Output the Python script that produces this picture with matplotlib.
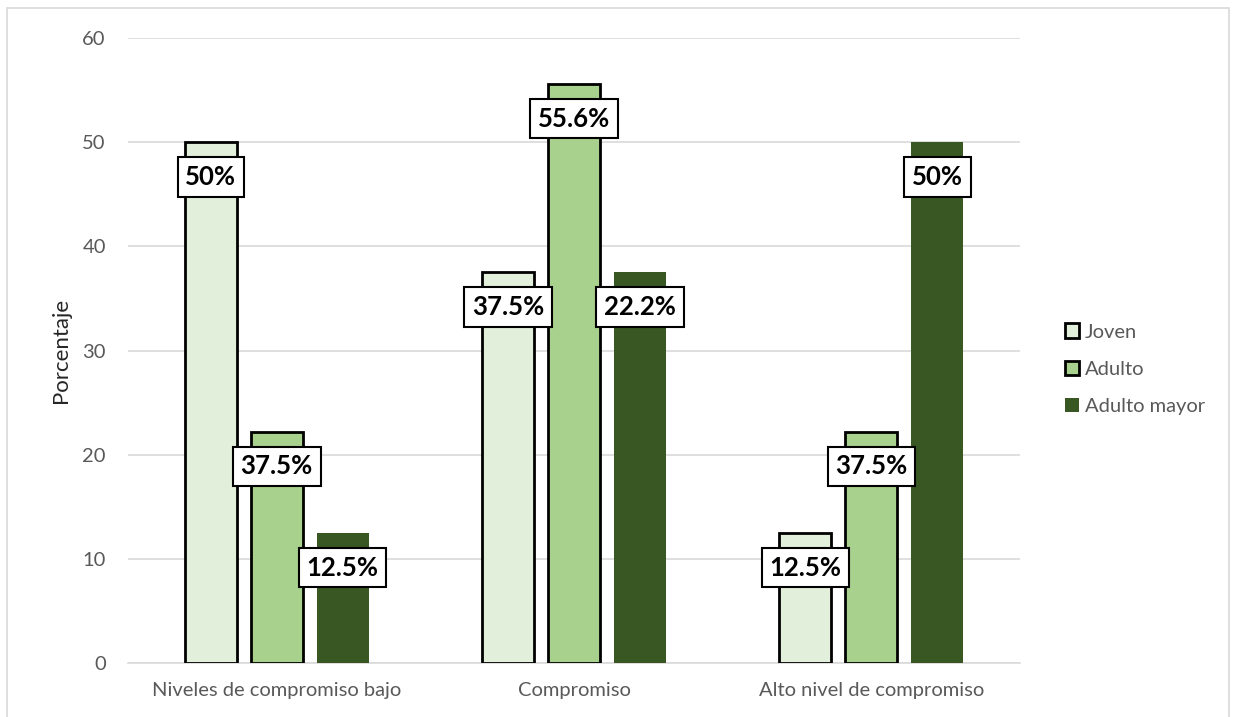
import matplotlib
matplotlib.use("Agg")
import matplotlib.pyplot as plt
from matplotlib.patches import Rectangle
import numpy as np

categories = ["Niveles de compromiso bajo", "Compromiso", "Alto nivel de compromiso"]
series = ["Joven", "Adulto", "Adulto mayor"]
heights = {
    "Joven": [50, 37.5, 12.5],
    "Adulto": [22.2, 55.6, 22.2],
    "Adulto mayor": [12.5, 37.5, 50],
}
labels = {
    "Joven": ["50%", "37.5%", "12.5%"],
    "Adulto": ["37.5%", "55.6%", "37.5%"],
    "Adulto mayor": ["12.5%", "22.2%", "50%"],
}
colors = {"Joven": "#E2EFDA", "Adulto": "#A9D18E", "Adulto mayor": "#385723"}
edges = {"Joven": "black", "Adulto": "black", "Adulto mayor": "none"}
yticks = [0, 10, 20, 30, 40, 50, 60]

plt.rcParams['font.family'] = ['Lato', 'DejaVu Sans']
fig = plt.figure(figsize=(12.36, 7.17), dpi=100)
ax = fig.add_axes([0.1036, 0.0753, 0.7217, 0.8717])

x = np.arange(len(categories))
width = 0.175
offsets = [-0.222, 0.0, 0.222]
for s, off in zip(series, offsets):
    lw = 2 if edges[s] != "none" else 0
    bars = ax.bar(x + off, heights[s], width, color=colors[s], edgecolor=edges[s],
                  linewidth=lw, label=s, zorder=3)
    for b, lab in zip(bars, labels[s]):
        ax.annotate(lab, (b.get_x() + b.get_width() / 2, b.get_height()),
                    xytext=(0, -25), textcoords="offset points", ha="center", va="center",
                    fontsize=18.5, fontweight="bold", color="black", zorder=5,
                    bbox=dict(boxstyle="square,pad=0.3", fc="white", ec="black", lw=1.5))

ax.set_xlim(-0.5, 2.5)
ax.set_ylim(0, 60)
ax.set_yticks(yticks)
ax.set_xticks(x)
ax.set_xticklabels(categories)
ax.tick_params(axis="both", length=0, labelsize=14.5, colors="#595959")
ax.tick_params(axis="y", pad=16)
ax.tick_params(axis="x", pad=14)
ax.grid(axis="y", color="#D9D9D9", linewidth=1.2, zorder=0)
for sp in ["top", "right", "left"]:
    ax.spines[sp].set_visible(False)
ax.spines["bottom"].set_color("#D9D9D9")
ax.spines["bottom"].set_linewidth(1.2)
ax.set_ylabel("Porcentaje", fontsize=16, color="#262626", labelpad=8)

leg = ax.legend(loc="center left", bbox_to_anchor=(1.03, 0.47), frameon=False,
                fontsize=14.5, labelspacing=1.0, handlelength=0.7, handleheight=0.7,
                handletextpad=0.3)
for t in leg.get_texts():
    t.set_color("#595959")

fig.patches.append(Rectangle((7 / 1236, -0.01), 1222 / 1236, 1 - 8 / 717 + 0.01,
                             transform=fig.transFigure, fill=False, ec="#D9D9D9", lw=1.2))

fig.savefig("out.png", dpi=100)
